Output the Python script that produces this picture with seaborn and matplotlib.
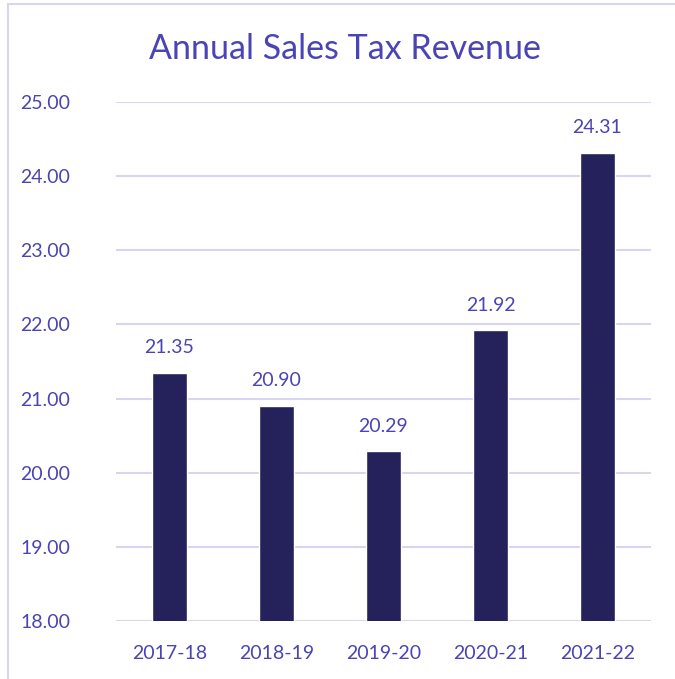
import matplotlib
matplotlib.use("Agg")
import matplotlib.pyplot as plt
import seaborn as sns
import pandas as pd
from matplotlib.patches import Rectangle

years = ["2017-18", "2018-19", "2019-20", "2020-21", "2021-22"]
revenue = [21.35, 20.90, 20.29, 21.92, 24.31]
y_ticks = [18, 19, 20, 21, 22, 23, 24, 25]

TEXT = "#4A44B5"
BAR = "#25215A"
GRID = "#D8D5F0"

sns.set_theme(style="white")
plt.rcParams["font.family"] = ["Lato", "DejaVu Sans"]

df = pd.DataFrame({"year": years, "revenue": revenue})

fig = plt.figure(figsize=(6.75, 6.79), dpi=100)
ax = fig.add_axes([116 / 675, 1 - 621 / 679, (651 - 116) / 675, (621 - 102) / 679])

sns.barplot(data=df, x="year", y="revenue", color=BAR, width=0.32,
            saturation=1, ax=ax, zorder=3)

ax.set_ylim(18, 25)
ax.set_yticks(y_ticks)
ax.set_yticklabels([f"{v:.2f}" for v in y_ticks])
ax.yaxis.grid(True, color=GRID, linewidth=1.5, zorder=0)
ax.set_axisbelow(True)
for s in ax.spines.values():
    s.set_visible(False)
ax.set_xlabel("")
ax.set_ylabel("")
ax.tick_params(axis="both", length=0, labelsize=14, labelcolor=TEXT)
ax.tick_params(axis="y", pad=33)
ax.tick_params(axis="x", pad=17)

for i, v in enumerate(revenue):
    ax.annotate(f"{v:.2f}", (i, v), xytext=(0, 12), textcoords="offset points",
                ha="center", va="bottom", fontsize=14, color=TEXT)

fig.text(345 / 675, 1 - 49 / 679, "Annual Sales Tax Revenue", ha="center",
         va="center", fontsize=24.5, color=TEXT)

fig.patches.append(Rectangle((8 / 675, -0.1), 1.2, 1 - 4 / 679 + 0.1,
                             transform=fig.transFigure, fill=False,
                             edgecolor=GRID, linewidth=1.5))

fig.savefig("out.png", dpi=100)
